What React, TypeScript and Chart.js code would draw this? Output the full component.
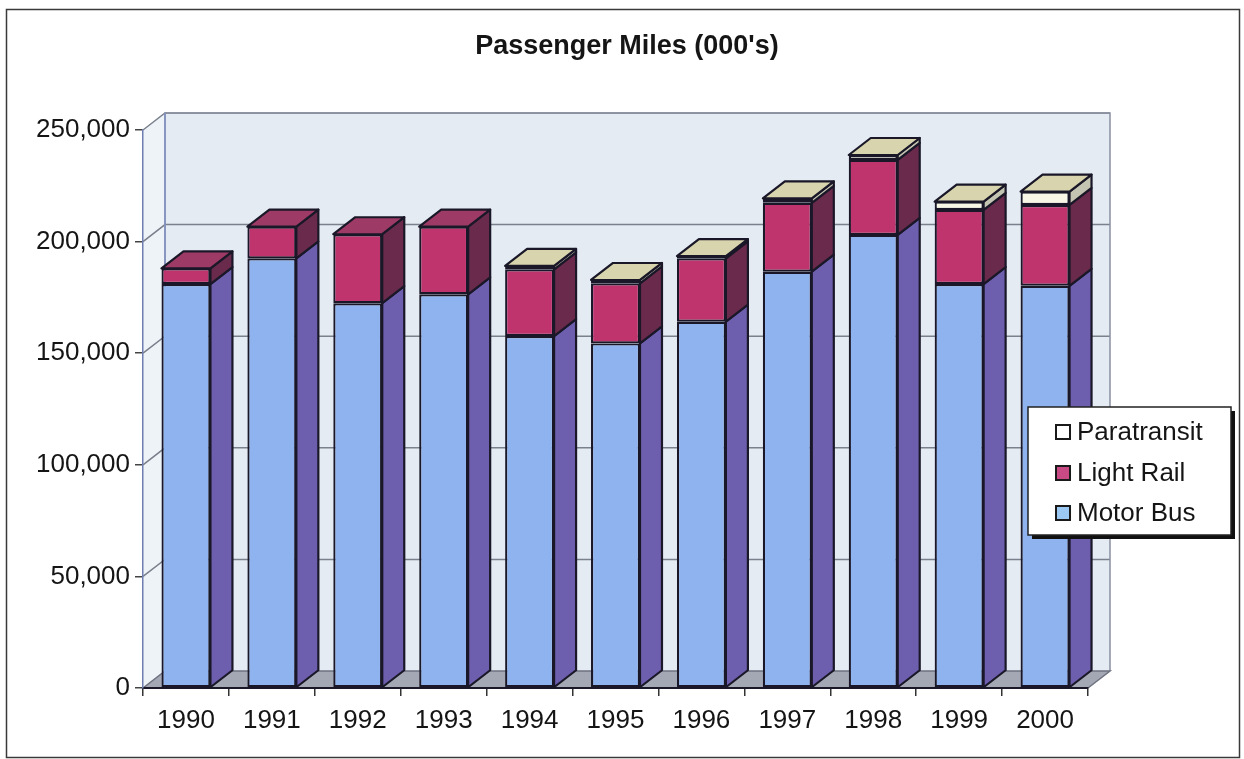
import React, { useEffect, useRef } from "react";
import { Chart, registerables } from "chart.js";

Chart.register(...registerables);

// Passenger miles, thousands
const years = ["1990", "1991", "1992", "1993", "1994", "1995", "1996", "1997", "1998", "1999", "2000"];
const motorBus = [181000, 192500, 172400, 176400, 157700, 154400, 164100, 186500, 203000, 181000, 180200];
const lightRail = [7000, 14200, 30900, 30300, 29900, 26900, 28400, 30900, 33600, 33200, 36200];
const paratransit = [0, 0, 0, 0, 1500, 1500, 1000, 2000, 2200, 3700, 6000];
const yTicks = [0, 50000, 100000, 150000, 200000, 250000];

const W = 1244;
const H = 759;
const FONT = "'Liberation Sans', Arial, Helvetica, sans-serif";

// depth of the extruded boxes and walls
const DX = 22;
const DY = -17;

const EDGE = "#1a1828";
const TEXT = "#151515";
const frontColors = ["#8fb3ee", "#c0346e", "#f8f6e4"];
const sideColors = ["#6d5fae", "#6a2a4c", "#c4c4b2"];
const topColors = ["#b7cdf4", "#9e3a66", "#d8d5ae"];
const legendSwatch = ["#9cc8f4", "#c84a84", "#ffffff"];

function poly(ctx: CanvasRenderingContext2D, pts: number[][], fill: string, stroke?: string, lw = 2) {
  ctx.beginPath();
  ctx.moveTo(pts[0][0], pts[0][1]);
  for (let i = 1; i < pts.length; i++) ctx.lineTo(pts[i][0], pts[i][1]);
  ctx.closePath();
  ctx.fillStyle = fill;
  ctx.fill();
  if (stroke) {
    ctx.strokeStyle = stroke;
    ctx.lineWidth = lw;
    ctx.lineJoin = "round";
    ctx.stroke();
  }
}

const depthPlugin = {
  id: "depth3d",
  beforeDraw(chart: any) {
    const { ctx, chartArea: a, scales } = chart;
    const y = scales.y;
    ctx.save();
    ctx.fillStyle = "#ffffff";
    ctx.fillRect(0, 0, W, H);

    // outer frame
    ctx.strokeStyle = "#3a3a3a";
    ctx.lineWidth = 1.5;
    ctx.strokeRect(6.5, 9.5, 1233, 748);

    // side wall
    poly(ctx, [[a.left, a.top], [a.left + DX, a.top + DY], [a.left + DX, a.bottom + DY], [a.left, a.bottom]], "#eef3f8");
    // back wall
    poly(ctx, [[a.left + DX, a.top + DY], [a.right + DX, a.top + DY], [a.right + DX, a.bottom + DY], [a.left + DX, a.bottom + DY]], "#e4ebf3");
    // floor
    poly(ctx, [[a.left, a.bottom], [a.right, a.bottom], [a.right + DX, a.bottom + DY], [a.left + DX, a.bottom + DY]], "#a4a8b4");

    // gridlines on side and back walls
    ctx.strokeStyle = "#7a818c";
    ctx.lineWidth = 1.5;
    for (const t of yTicks) {
      if (t === 0) continue;
      const py = y.getPixelForValue(t);
      ctx.beginPath();
      ctx.moveTo(a.left, py);
      ctx.lineTo(a.left + DX, py + DY);
      ctx.lineTo(a.right + DX, py + DY);
      ctx.stroke();
    }
    // wall outlines
    ctx.strokeStyle = "#8a90a0";
    ctx.lineWidth = 1.5;
    ctx.beginPath();
    ctx.moveTo(a.left + DX, a.bottom + DY);
    ctx.lineTo(a.left + DX, a.top + DY);
    ctx.lineTo(a.right + DX, a.top + DY);
    ctx.lineTo(a.right + DX, a.bottom + DY);
    ctx.stroke();
    ctx.strokeStyle = "#7f8fc4";
    ctx.beginPath();
    ctx.moveTo(a.left + DX, a.top + DY);
    ctx.lineTo(a.left + DX, a.bottom + DY);
    ctx.stroke();
    // floor edges
    ctx.strokeStyle = "#6e7280";
    ctx.beginPath();
    ctx.moveTo(a.left, a.bottom);
    ctx.lineTo(a.left + DX, a.bottom + DY);
    ctx.lineTo(a.right + DX, a.bottom + DY);
    ctx.lineTo(a.right, a.bottom);
    ctx.stroke();
    ctx.restore();
  },
  afterDatasetsDraw(chart: any) {
    const { ctx } = chart;
    const sets = chart.data.datasets;
    const metas = sets.map((_: any, i: number) => chart.getDatasetMeta(i));
    const n = chart.data.labels.length;
    ctx.save();
    for (let j = 0; j < n; j++) {
      let top: any = null;
      let topIdx = -1;
      for (let i = 0; i < sets.length; i++) {
        const v = sets[i].data[j];
        if (!v) continue;
        const bar = metas[i].data[j].getProps(["x", "y", "base", "width"], true);
        const r = bar.x + bar.width / 2;
        poly(ctx, [[r, bar.y], [r + DX, bar.y + DY], [r + DX, bar.base + DY], [r, bar.base]], sideColors[i], EDGE, 2.2);
        top = bar;
        topIdx = i;
      }
      if (top) {
        const l = top.x - top.width / 2;
        const r = top.x + top.width / 2;
        poly(ctx, [[l, top.y], [l + DX, top.y + DY], [r + DX, top.y + DY], [r, top.y]], topColors[topIdx], EDGE, 2.2);
      }
    }
    ctx.restore();
  },
  afterDraw(chart: any) {
    const { ctx } = chart;
    ctx.save();
    // title
    ctx.fillStyle = TEXT;
    ctx.font = `bold 27px ${FONT}`;
    ctx.textAlign = "center";
    ctx.textBaseline = "middle";
    ctx.fillText("Passenger Miles (000's)", 627, 47);

    // legend box
    const bx = 1028, by = 407, bw = 203, bh = 128;
    ctx.fillStyle = "#111111";
    ctx.fillRect(bx + 4, by + 4, bw, bh);
    ctx.fillStyle = "#ffffff";
    ctx.fillRect(bx, by, bw, bh);
    ctx.strokeStyle = "#222222";
    ctx.lineWidth = 1.5;
    ctx.strokeRect(bx, by, bw, bh);

    const sets = chart.data.datasets;
    const rowsY = [432, 473, 513];
    ctx.font = `26px ${FONT}`;
    ctx.textAlign = "left";
    for (let k = 0; k < sets.length; k++) {
      const i = sets.length - 1 - k;
      const cy = rowsY[k];
      ctx.fillStyle = legendSwatch[i];
      ctx.fillRect(1056, cy - 7, 14, 14);
      ctx.strokeStyle = "#1a1a1a";
      ctx.lineWidth = 2;
      ctx.strokeRect(1056, cy - 7, 14, 14);
      ctx.fillStyle = TEXT;
      ctx.fillText(sets[i].label, 1077, cy + 1);
    }
    ctx.restore();
  },
};

export default function App() {
  const ref = useRef<HTMLCanvasElement | null>(null);

  useEffect(() => {
    if (!ref.current) return;
    const mk = (label: string, data: number[], i: number) => ({
      label,
      data,
      backgroundColor: frontColors[i],
      borderColor: EDGE,
      borderWidth: 2.2,
      borderSkipped: false,
      barPercentage: 0.57,
      categoryPercentage: 1,
    });
    const chart = new Chart(ref.current, {
      type: "bar",
      data: {
        labels: years,
        datasets: [mk("Motor Bus", motorBus, 0), mk("Light Rail", lightRail, 1), mk("Paratransit", paratransit, 2)],
      },
      plugins: [depthPlugin],
      options: {
        responsive: false,
        animation: false,
        layout: { padding: { left: 0, right: 156, top: 130, bottom: 0 } },
        plugins: { legend: { display: false }, title: { display: false }, tooltip: { enabled: false } },
        scales: {
          x: {
            stacked: true,
            afterFit: (s: any) => {
              s.height = 71;
            },
            grid: { drawOnChartArea: false, drawTicks: true, tickLength: 8, color: "#333333", lineWidth: 1.5, offset: true },
            border: { display: true, color: EDGE, width: 2 },
            ticks: { color: TEXT, font: { family: FONT, size: 26 }, padding: 9, maxRotation: 0 },
          },
          y: {
            stacked: true,
            min: 0,
            max: 250000,
            afterFit: (s: any) => {
              s.width = 143;
            },
            afterBuildTicks: (s: any) => {
              s.ticks = yTicks.map((v) => ({ value: v }));
            },
            grid: { drawOnChartArea: false, drawTicks: true, tickLength: 8, color: "#444444", lineWidth: 1.5 },
            border: { display: true, color: "#6f7db0", width: 1.5 },
            ticks: {
              color: TEXT,
              font: { family: FONT, size: 26 },
              padding: 5,
              callback: (v: any) => Number(v).toLocaleString("en-US"),
            },
          },
        },
      },
    });
    return () => chart.destroy();
  }, []);

  return (
    <div style={{ position: "fixed", left: 0, top: 0, width: W, height: H, background: "#fff" }}>
      <canvas ref={ref} width={W} height={H} style={{ display: "block", width: W, height: H }} />
    </div>
  );
}
